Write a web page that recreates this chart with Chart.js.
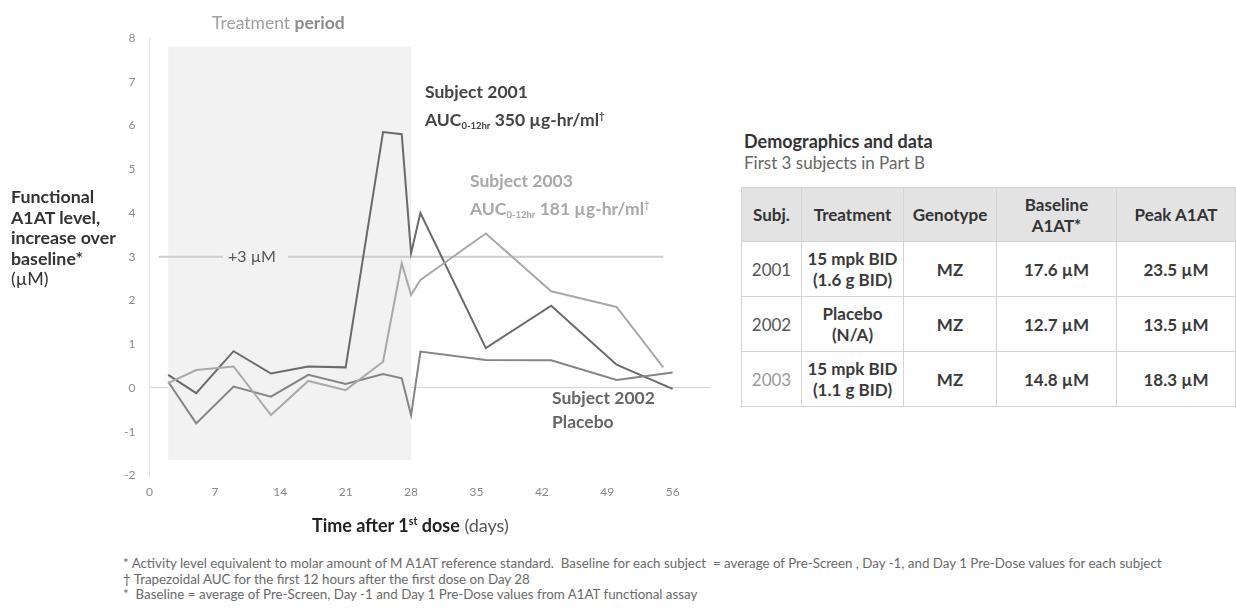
<!DOCTYPE html>
<html>
<head>
<meta charset="utf-8">
<script src="https://cdn.jsdelivr.net/npm/chart.js@4.4.1/dist/chart.umd.min.js"></script>
<style>
  html, body { margin: 0; padding: 0; background: #fff; }
  body { width: 1236px; height: 610px; position: relative; overflow: hidden; font-family: Lato, "Open Sans", sans-serif; }
  #wrap { position: absolute; left: 0; top: 0; width: 730px; height: 520px; }
  .abs { position: absolute; white-space: nowrap; }
  .ytitle { left: 11px; top: 186px; font-size: 17.8px; line-height: 20.5px; font-weight: 700; color: #333; }
  .tp { left: 212px; top: 12px; font-size: 17.5px; color: #a0a0a0; }
  .ann { font-size: 17.5px; line-height: 24px; font-weight: 700; }
  .ann sub { font-size: 9.5px; vertical-align: -3px; font-weight: 700; }
  .ann sup { font-size: 9.5px; vertical-align: 7px; }
  .xtitle { left: 312px; top: 514px; font-size: 18px; color: #222; }
  .xtitle sup { font-size: 10.5px; vertical-align: 7px; }
  .foot { left: 123px; top: 556px; font-size: 13.35px; line-height: 15.5px; color: #6a6a6a; }
  .ttl { left: 744px; top: 130px; font-size: 18px; font-weight: 700; color: #333; }
  .sub { left: 744px; top: 152px; font-size: 17px; color: #666; }
  table { position: absolute; left: 741px; top: 187px; border-collapse: collapse; font-size: 17px; color: #333; }
  td, th { border: 1px solid #d4d4d4; text-align: center; padding: 0; line-height: 21px; }
  th { background: #e3e3e3; height: 53px; font-weight: 700; color: #333; }
  td { height: 54px; font-weight: 700; color: #3a3a3a; }
  td.id { font-weight: 400; color: #555; }
  td.id3 { font-weight: 400; color: #999; }
</style>
</head>
<body>
<div id="wrap"><canvas id="c"></canvas></div>

<div class="abs ytitle">Functional<br>A1AT level,<br>increase over<br>baseline*<br><span style="font-weight:400">(µM)</span></div>
<div class="abs tp">Treatment <b style="color:#8c8c8c">period</b></div>

<div class="abs ann" style="left:425px;top:80px;color:#444">Subject 2001<br>AUC<sub>0-12hr</sub> 350 µg-hr/ml<sup>†</sup></div>
<div class="abs ann" style="left:470px;top:169px;color:#a8a8a8">Subject 2003<br>AUC<sub>0-12hr</sub> 181 µg-hr/ml<sup>†</sup></div>
<div class="abs ann" style="left:552px;top:386px;color:#666">Subject 2002<br>Placebo</div>

<div class="abs xtitle"><b>Time after 1<sup>st</sup> dose</b> <span style="color:#555">(days)</span></div>

<div class="abs foot">* Activity level equivalent to molar amount of M A1AT reference standard.&nbsp; Baseline for each subject&nbsp; = average of Pre-Screen , Day -1, and Day 1 Pre-Dose values for each subject<br>† Trapezoidal AUC for the first 12 hours after the first dose on Day 28<br>*&nbsp; Baseline = average of Pre-Screen, Day -1 and Day 1 Pre-Dose values from A1AT functional assay</div>

<div class="abs ttl">Demographics and data</div>
<div class="abs sub">First 3 subjects in Part B</div>
<table>
  <tr><th style="width:59px">Subj.</th><th style="width:101px">Treatment</th><th style="width:92px">Genotype</th><th style="width:119px">Baseline<br>A1AT*</th><th style="width:118px">Peak A1AT</th></tr>
  <tr><td class="id">2001</td><td>15 mpk BID<br>(1.6 g BID)</td><td>MZ</td><td>17.6 µM</td><td>23.5 µM</td></tr>
  <tr><td class="id">2002</td><td>Placebo<br>(N/A)</td><td>MZ</td><td>12.7 µM</td><td>13.5 µM</td></tr>
  <tr><td class="id3">2003</td><td>15 mpk BID<br>(1.1 g BID)</td><td>MZ</td><td>14.8 µM</td><td>18.3 µM</td></tr>
</table>

<script>
// Visit days (time after first dose) and change from baseline in functional A1AT (µM)
const visitDays     = [2, 5, 9, 13, 17, 21, 25, 27, 28, 29, 36, 43, 50, 56];
const visitDays2003 = [2, 5, 9, 13, 17, 21, 25, 27, 28, 29, 36, 43, 50, 55];
const subject2001 = [0.30, -0.12, 0.84, 0.33, 0.49, 0.47, 5.85, 5.80, 3.08, 4.00, 0.91, 1.88, 0.53, -0.02];
const subject2002 = [0.14, -0.81, 0.03, -0.20, 0.30, 0.09, 0.32, 0.22, -0.62, 0.83, 0.64, 0.63, 0.18, 0.35];
const subject2003 = [0.11, 0.41, 0.49, -0.62, 0.16, -0.05, 0.60, 2.85, 2.13, 2.47, 3.53, 2.21, 1.85, 0.47];
const xTickDays = [0, 7, 14, 21, 28, 35, 42, 49, 56];
const yTicks = [-2, -1, 0, 1, 2, 3, 4, 5, 6, 7, 8];

// Treatment window and the +3 µM reference level
const treatment = { from: 2, to: 28, low: -1.65, high: 7.8 };
const threshold = { value: 3, from: 1, to: 55, label: '+3 µM', labelAt: 8.4 };

const pts = (xs, ys) => xs.map((x, i) => ({ x, y: ys[i] }));

const backdrop = {
  id: 'backdrop',
  beforeDatasetsDraw(chart) {
    const { ctx, scales: { x, y } } = chart;
    ctx.save();
    // treatment period shading
    ctx.fillStyle = '#f2f2f2';
    const x0 = x.getPixelForValue(treatment.from), x1 = x.getPixelForValue(treatment.to);
    const y0 = y.getPixelForValue(treatment.high), y1 = y.getPixelForValue(treatment.low);
    ctx.fillRect(x0, y0, x1 - x0, y1 - y0);
    // +3 µM line with its label sitting in a gap
    const ty = y.getPixelForValue(threshold.value);
    ctx.font = '16px Lato, "Open Sans", sans-serif';
    const tw = ctx.measureText(threshold.label).width;
    const lx = x.getPixelForValue(threshold.labelAt);
    ctx.strokeStyle = '#cdcdcd';
    ctx.lineWidth = 2;
    ctx.beginPath();
    ctx.moveTo(x.getPixelForValue(threshold.from), ty);
    ctx.lineTo(lx - 5, ty);
    ctx.moveTo(lx + tw + 12, ty);
    ctx.lineTo(x.getPixelForValue(threshold.to), ty);
    ctx.stroke();
    ctx.fillStyle = '#555';
    ctx.textBaseline = 'middle';
    ctx.fillText(threshold.label, lx, ty);
    ctx.restore();
  }
};

const lineStyle = (color) => ({
  borderColor: color, backgroundColor: color, borderWidth: 2,
  pointRadius: 0, tension: 0, fill: false
});

new Chart(document.getElementById('c'), {
  type: 'line',
  data: {
    datasets: [
      { label: 'Subject 2003', data: pts(visitDays2003, subject2003), ...lineStyle('#a9a9a9') },
      { label: 'Subject 2002', data: pts(visitDays, subject2002), ...lineStyle('#858585') },
      { label: 'Subject 2001', data: pts(visitDays, subject2001), ...lineStyle('#6a6a6a') }
    ]
  },
  options: {
    responsive: true,
    maintainAspectRatio: false,
    animation: false,
    layout: { padding: { left: 0, right: 20, top: 38, bottom: 0 } },
    plugins: { legend: { display: false }, tooltip: { enabled: false } },
    scales: {
      x: {
        type: 'linear', min: 0, max: 60,
        afterBuildTicks: (s) => { s.ticks = xTickDays.map(v => ({ value: v })); },
        afterFit: (s) => { s.height = 44.6; },
        grid: { display: false, drawTicks: false },
        border: { display: false },
        ticks: { padding: 10, color: '#8a8a8a', font: { family: 'Lato', size: 12 } }
      },
      y: {
        type: 'linear', min: -2, max: 8,
        afterBuildTicks: (s) => { s.ticks = yTicks.map(v => ({ value: v })); },
        afterFit: (s) => { s.width = 149.5; },
        grid: { drawTicks: false, lineWidth: 1, color: (c) => c.tick && c.tick.value === 0 ? '#d6d6d6' : 'rgba(0,0,0,0)' },
        border: { display: true, color: '#e2e2e2', width: 1 },
        ticks: { padding: 14, color: '#8a8a8a', font: { family: 'Lato', size: 12 } }
      }
    }
  },
  plugins: [backdrop]
});
</script>
</body>
</html>
